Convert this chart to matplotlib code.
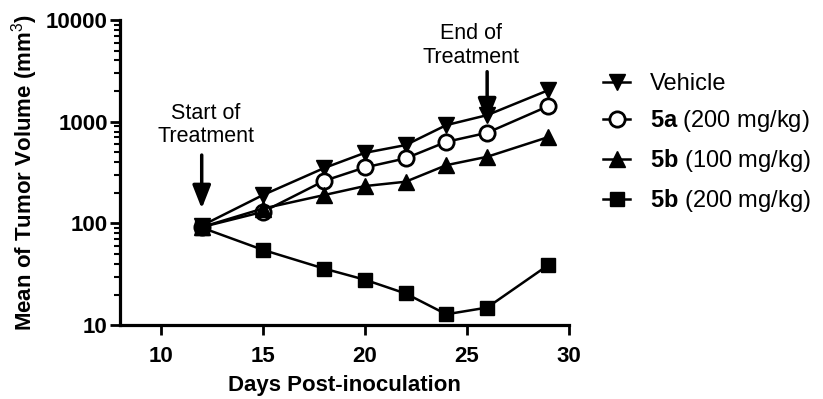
import matplotlib
matplotlib.use("Agg")
import matplotlib.pyplot as plt
from matplotlib.ticker import LogLocator, FixedLocator, NullFormatter

plt.rcParams['font.family'] = ['Liberation Sans', 'DejaVu Sans']
plt.rcParams['mathtext.fontset'] = 'custom'
plt.rcParams['mathtext.rm'] = 'Liberation Sans'
plt.rcParams['mathtext.bf'] = 'Liberation Sans:bold'

days = [12, 15, 18, 20, 22, 24, 26, 29]
vehicle = [95, 190, 350, 494, 589, 926, 1160, 2040]
a5_200 = [92, 130, 262, 355, 436, 634, 778, 1423]
b5_100 = [92, 140, 190, 233, 257, 374, 452, 706]
b5_200 = [91, 55, 36, 28, 20.5, 12.8, 14.9, 39]

labels = ["Vehicle", r"$\mathbf{5a}$ (200 mg/kg)", r"$\mathbf{5b}$ (100 mg/kg)", r"$\mathbf{5b}$ (200 mg/kg)"]
xticks = [10, 15, 20, 25, 30]
yticks = [10, 100, 1000, 10000]

fig = plt.figure(figsize=(8.23, 3.99), dpi=100)
ax = fig.add_axes([0.146, 0.185, 0.545, 0.765])

lw = 1.8
ax.plot(days, vehicle, color='black', lw=lw, marker='v', ms=11, label=labels[0])
ax.plot(days, a5_200, color='black', lw=lw, marker='o', ms=11, mfc='white', mew=2, label=labels[1])
ax.plot(days, b5_100, color='black', lw=lw, marker='^', ms=11, label=labels[2])
ax.plot(days, b5_200, color='black', lw=lw, marker='s', ms=10, label=labels[3])

ax.set_yscale('log')
ax.set_xlim(8, 30)
ax.set_ylim(10, 10000)
ax.xaxis.set_major_locator(FixedLocator(xticks))
ax.yaxis.set_major_locator(FixedLocator(yticks))
ax.set_yticklabels([str(v) for v in yticks])
ax.yaxis.set_minor_locator(LogLocator(base=10, subs=range(2, 10)))
ax.yaxis.set_minor_formatter(NullFormatter())

for s in ['top', 'right']:
    ax.spines[s].set_visible(False)
for s in ['left', 'bottom']:
    ax.spines[s].set_linewidth(2.3)

ax.tick_params(axis='both', which='major', direction='out', length=7, width=2.0,
               labelsize=16, pad=2)
ax.tick_params(axis='y', which='minor', direction='out', length=4, width=1.5)
ax.tick_params(axis='x', pad=8)
for t in ax.get_xticklabels() + ax.get_yticklabels():
    t.set_fontweight('bold')

ax.set_xlabel("Days Post-inoculation", fontsize=16, fontweight='bold', labelpad=6)
ax.set_ylabel("Mean of Tumor Volume (mm$^3$)", fontsize=16, fontweight='bold', labelpad=4)

# annotations
ap = dict(arrowstyle='-|>,head_width=0.55,head_length=1.4', color='black', lw=2.5,
          shrinkA=0, shrinkB=0)
ax.annotate("", xy=(12, 140), xytext=(12, 470), arrowprops=ap)
ax.text(12.2, 930, "Start of\nTreatment", ha='center', va='center', fontsize=15.5, linespacing=1.15)
ax.annotate("", xy=(26, 1000), xytext=(26, 3100), arrowprops=ap)
ax.text(25.2, 5600, "End of\nTreatment", ha='center', va='center', fontsize=15.5, linespacing=1.15)

leg = fig.legend(loc='center left', bbox_to_anchor=(0.707, 0.64), frameon=False,
                 fontsize=17, handlelength=1.15, labelspacing=0.55, handletextpad=0.85)

fig.savefig("out.png", dpi=100)
